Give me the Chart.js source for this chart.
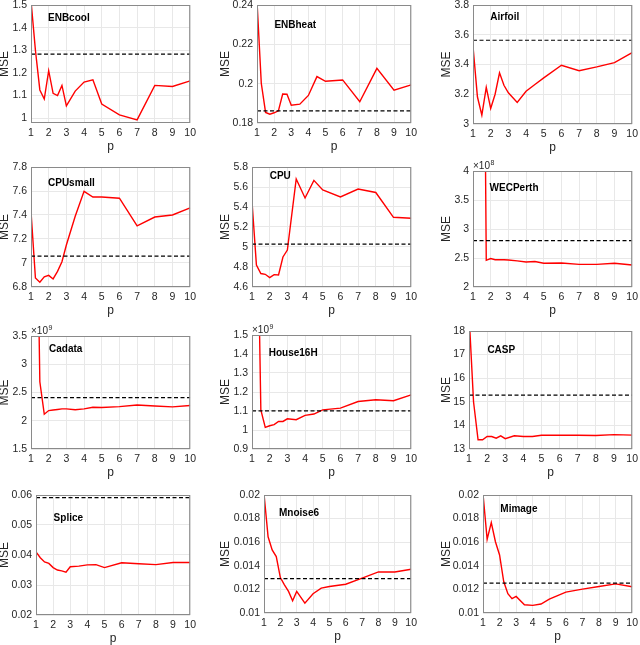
<!DOCTYPE html>
<html>
<head>
<meta charset="utf-8">
<script src="https://cdn.jsdelivr.net/npm/chart.js@4.4.0/dist/chart.umd.min.js"></script>
<style>
  body { margin: 0; background: #fff; width: 640px; height: 645px; position: relative; overflow: hidden; }
  canvas { position: absolute; }
</style>
</head>
<body>
<script>
// Valores de p (eje x) comunes a todos los paneles
const pValues = [1, 1.25, 1.5, 1.75, 2, 2.25, 2.5, 2.75, 3, 3.5, 4, 4.5, 5, 6, 7, 8, 9, 10];
const xTicks = [1, 2, 3, 4, 5, 6, 7, 8, 9, 10];

// Nombres de los conjuntos de datos, en orden de lectura
const datasetNames = ['ENBcool', 'ENBheat', 'Airfoil', 'CPUsmall', 'CPU', 'WECPerth',
                      'Cadata', 'House16H', 'CASP', 'Splice', 'Mnoise6', 'Mimage'];

// MSE para cada p (curva roja). WECPerth en 1e8, Cadata y House16H en 1e9
const mseENBcool  = [1.52, 1.30, 1.125, 1.085, 1.21, 1.11, 1.10, 1.145, 1.055, 1.12, 1.16, 1.17, 1.063, 1.015, 0.993, 1.145, 1.14, 1.165];
const mseENBheat  = [0.242, 0.2002, 0.1854, 0.1845, 0.1852, 0.1862, 0.1947, 0.1946, 0.189, 0.1896, 0.194, 0.2036, 0.2012, 0.2019, 0.1908, 0.2078, 0.1967, 0.1994];
const mseAirfoil  = [3.523, 3.183, 3.06, 3.246, 3.105, 3.20, 3.344, 3.26, 3.21, 3.145, 3.22, 3.266, 3.31, 3.395, 3.358, 3.384, 3.413, 3.48];
const mseCPUsmall = [7.43, 6.875, 6.84, 6.885, 6.897, 6.867, 6.93, 7.01, 7.15, 7.39, 7.597, 7.55, 7.55, 7.54, 7.31, 7.383, 7.40, 7.46];
const mseCPU      = [5.455, 4.82, 4.735, 4.727, 4.694, 4.724, 4.72, 4.90, 4.97, 5.68, 5.49, 5.666, 5.57, 5.50, 5.58, 5.545, 5.297, 5.287];
const mseWECPerth = [40, 25, 12, 2.46, 2.49, 2.47, 2.47, 2.47, 2.465, 2.45, 2.43, 2.44, 2.41, 2.415, 2.39, 2.39, 2.41, 2.38];
const mseCadata   = [12, 7.8, 2.69, 2.116, 2.18, 2.19, 2.20, 2.21, 2.21, 2.195, 2.21, 2.24, 2.235, 2.25, 2.28, 2.26, 2.245, 2.27];
const mseHouse16H = [4.0, 2.5, 1.106, 1.014, 1.0225, 1.028, 1.045, 1.045, 1.059, 1.054, 1.077, 1.084, 1.106, 1.115, 1.15, 1.159, 1.154, 1.185];
const mseCASP     = [18.75, 15.0, 13.39, 13.39, 13.53, 13.53, 13.46, 13.56, 13.44, 13.56, 13.53, 13.53, 13.58, 13.59, 13.58, 13.57, 13.61, 13.59];
const mseSplice   = [0.04105, 0.0391, 0.0377, 0.0372, 0.0358, 0.0350, 0.0347, 0.0343, 0.0361, 0.0363, 0.0367, 0.0368, 0.0358, 0.0374, 0.0371, 0.0368, 0.0375, 0.0375];
const mseMnoise6  = [0.0201, 0.01646, 0.01534, 0.01478, 0.0130, 0.01239, 0.01183, 0.01104, 0.01183, 0.01084, 0.01163, 0.01211, 0.01225, 0.01244, 0.01295, 0.01348, 0.01348, 0.01371];
const mseMimage   = [0.0201, 0.01624, 0.01767, 0.01604, 0.01492, 0.01267, 0.01163, 0.01121, 0.0114, 0.0107, 0.01065, 0.01076, 0.01118, 0.01177, 0.01202, 0.01225, 0.01247, 0.01222];

const mseSeries = [mseENBcool, mseENBheat, mseAirfoil, mseCPUsmall, mseCPU, mseWECPerth,
                   mseCadata, mseHouse16H, mseCASP, mseSplice, mseMnoise6, mseMimage];

// Valor de referencia (línea discontinua negra)
const baselineMSE = [1.283, 0.1862, 3.563, 7.058, 5.029, 2.80, 2.41, 1.101, 15.28, 0.0591, 0.01292, 0.01253];

// Rangos del eje y y sus marcas
const yMin = [0.979, 0.18, 3, 6.8, 4.6, 2, 1.5, 0.9, 13, 0.02, 0.01, 0.01];
const yMax = [1.5, 0.24, 3.8, 7.8, 5.8, 4, 3.5, 1.5, 18, 0.06, 0.02, 0.02];
const yTicks = [
    [1, 1.1, 1.2, 1.3, 1.4, 1.5],
    [0.18, 0.2, 0.22, 0.24],
    [3, 3.2, 3.4, 3.6, 3.8],
    [6.8, 7, 7.2, 7.4, 7.6, 7.8],
    [4.6, 4.8, 5, 5.2, 5.4, 5.6, 5.8],
    [2, 2.5, 3, 3.5, 4],
    [1.5, 2, 2.5, 3, 3.5],
    [0.9, 1, 1.1, 1.2, 1.3, 1.4, 1.5],
    [13, 14, 15, 16, 17, 18],
    [0.02, 0.03, 0.04, 0.05, 0.06],
    [0.01, 0.012, 0.014, 0.016, 0.018, 0.02],
    [0.01, 0.012, 0.014, 0.016, 0.018, 0.02]
];
// Exponente del factor de escala (×10^n) o null
const yExponent = [null, null, null, null, null, 8, 9, 9, null, null, null, null];

// ---- Disposición (píxeles) ----
// Área de trazado de cada panel: [izq, arriba, der, abajo]
const plotRects = [
    [31, 5, 192, 123], [257, 5, 413, 123], [473, 5, 634, 124],
    [31, 167, 192, 287], [252, 167, 413, 287], [473, 171, 634, 287],
    [31, 336, 192, 449], [252, 335, 413, 449], [469, 331, 634, 449],
    [36, 495, 192, 615], [264, 495, 413, 613], [483, 495, 634, 613]
];
// Centro horizontal del rótulo "MSE" por columna
const mseLabelX = [5, 225.6, 447];
// Posición del nombre del conjunto relativa al área de trazado
const namePos = [
    [17, 13.3], [17.4, 20], [17.3, 12.6], [17, 16.7], [17.7, 9.4], [16.6, 17.3],
    [18, 13.6], [16.7, 18.3], [18.4, 19], [17.6, 23.6], [15, 18.6], [17.3, 14.6]
];

const FONT = '"Liberation Sans", Arial, Helvetica, sans-serif';
const TEXT_COLOR = '#262626';

// Formatea números como MATLAB (sin ceros sobrantes)
function formatoNumero(v) {
    return String(+Number(v).toFixed(6));
}

// Plugin para marco, nombre del conjunto y factor ×10^n
const decoracion = {
    id: 'decoracion',
    afterDatasetsDraw(chart, args, opts) {
        const { ctx, chartArea: a } = chart;
        ctx.save();
        ctx.strokeStyle = '#8a8a8a';
        ctx.lineWidth = 1;
        ctx.strokeRect(a.left + 0.5, a.top + 0.5, a.right - a.left - 1, a.bottom - a.top - 1);

        ctx.fillStyle = '#000';
        ctx.font = 'bold 10px ' + FONT;
        ctx.textAlign = 'left';
        ctx.textBaseline = 'middle';
        ctx.fillText(opts.name, a.left + opts.dx, a.top + opts.dy);

        if (opts.exp !== null) {
            ctx.fillStyle = TEXT_COLOR;
            ctx.font = '10px ' + FONT;
            ctx.textBaseline = 'alphabetic';
            const base = '\u00d710';
            ctx.fillText(base, a.left, a.top - 2);
            const w = ctx.measureText(base).width;
            ctx.font = '7px ' + FONT;
            ctx.fillText(String(opts.exp), a.left + w + 0.5, a.top - 6);
        }
        ctx.restore();
    }
};

// Crea un panel
function crearPanel(i) {
    const [L, T, R, B] = plotRects[i];
    const col = i % 3;
    const left = Math.floor(mseLabelX[col] - 6);
    const top = T - 14;
    const width = R + 8 - left;
    const height = B + 32 - top;

    const canvas = document.createElement('canvas');
    canvas.width = width;
    canvas.height = height;
    canvas.style.left = left + 'px';
    canvas.style.top = top + 'px';
    canvas.style.width = width + 'px';
    canvas.style.height = height + 'px';
    document.body.appendChild(canvas);

    const serie = mseSeries[i];
    const puntos = pValues.map((p, k) => ({ x: p, y: serie[k] }));
    const referencia = [
        { x: pValues[0], y: baselineMSE[i] },
        { x: pValues[pValues.length - 1], y: baselineMSE[i] }
    ];

    new Chart(canvas.getContext('2d'), {
        type: 'line',
        data: {
            datasets: [
                {
                    data: referencia,
                    borderColor: '#000000',
                    borderWidth: 1.2,
                    borderDash: [4, 2.5],
                    pointRadius: 0,
                    tension: 0
                },
                {
                    data: puntos,
                    borderColor: '#ff0000',
                    borderWidth: 1.4,
                    pointRadius: 0,
                    tension: 0
                }
            ]
        },
        options: {
            responsive: false,
            animation: false,
            events: [],
            layout: {
                autoPadding: false,
                padding: { left: 0, top: T - top, right: left + width - R, bottom: 0 }
            },
            plugins: {
                legend: { display: false },
                tooltip: { enabled: false },
                decoracion: {
                    name: datasetNames[i],
                    dx: namePos[i][0],
                    dy: namePos[i][1],
                    exp: yExponent[i]
                }
            },
            scales: {
                x: {
                    type: 'linear',
                    min: 1,
                    max: 10,
                    bounds: 'data',
                    afterBuildTicks: s => { s.ticks = xTicks.map(v => ({ value: v })); },
                    afterFit: s => { s.height = top + height - B; },
                    grid: { color: '#e8e8e8', lineWidth: 1, drawTicks: false },
                    border: { display: false },
                    ticks: {
                        padding: 4,
                        maxRotation: 0,
                        autoSkip: false,
                        color: TEXT_COLOR,
                        font: { family: FONT, size: 10.5 },
                        callback: v => formatoNumero(v)
                    },
                    title: {
                        display: true,
                        text: 'p',
                        color: TEXT_COLOR,
                        font: { family: FONT, size: 12, lineHeight: 1 },
                        padding: { top: 0, bottom: 2 }
                    }
                },
                y: {
                    type: 'linear',
                    min: yMin[i],
                    max: yMax[i],
                    bounds: 'data',
                    afterBuildTicks: s => { s.ticks = yTicks[i].map(v => ({ value: v })); },
                    afterFit: s => { s.width = L - left; },
                    grid: { color: '#e8e8e8', lineWidth: 1, drawTicks: false },
                    border: { display: false },
                    ticks: {
                        padding: 4,
                        autoSkip: false,
                        color: TEXT_COLOR,
                        font: { family: FONT, size: 10.5 },
                        callback: v => formatoNumero(v)
                    },
                    title: {
                        display: true,
                        text: 'MSE',
                        color: TEXT_COLOR,
                        font: { family: FONT, size: 12, lineHeight: 1 },
                        padding: { top: mseLabelX[col] - 6 - left, bottom: 0 }
                    }
                }
            }
        },
        plugins: [decoracion]
    });
}

for (let i = 0; i < datasetNames.length; i++) {
    crearPanel(i);
}
</script>
</body>
</html>
